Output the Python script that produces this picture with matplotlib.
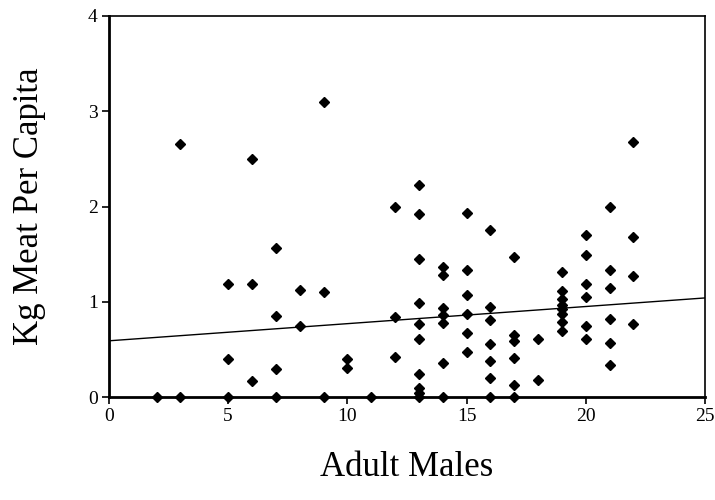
import matplotlib
matplotlib.use("Agg")
import matplotlib.pyplot as plt

# adult males per group and kg meat per capita
adult_males = [
    2, 3, 3, 5, 5, 5, 6, 6, 6, 7, 7, 7, 7, 8, 8, 9, 9, 9, 10, 10, 11,
    12, 12, 12,
    13, 13, 13, 13, 13, 13, 13, 13, 13, 13,
    14, 14, 14, 14, 14, 14, 14,
    15, 15, 15, 15, 15, 15,
    16, 16, 16, 16, 16, 16, 16,
    17, 17, 17, 17, 17, 17,
    18, 18,
    19, 19, 19, 19, 19, 19, 19, 19,
    20, 20, 20, 20, 20, 20,
    21, 21, 21, 21, 21, 21,
    22, 22, 22, 22,
]
meat_per_capita = [
    0.0, 2.66, 0.0, 1.19, 0.40, 0.0, 2.50, 1.19, 0.17, 1.56, 0.85, 0.29,
    0.0, 1.12, 0.75, 3.10, 1.10, 0.0, 0.40, 0.30, 0.0,
    1.99, 0.84, 0.42,
    2.23, 1.92, 1.45, 0.99, 0.77, 0.61, 0.24, 0.09, 0.04, 0.0,
    1.36, 1.28, 0.93, 0.86, 0.78, 0.36, 0.0,
    1.93, 1.33, 1.07, 0.87, 0.67, 0.47,
    1.75, 0.94, 0.81, 0.56, 0.38, 0.20, 0.0,
    1.47, 0.65, 0.59, 0.41, 0.13, 0.0,
    0.61, 0.18,
    1.31, 1.11, 1.03, 0.97, 0.92, 0.87, 0.79, 0.69,
    1.70, 1.49, 1.19, 1.05, 0.75, 0.61,
    1.99, 1.33, 1.14, 0.82, 0.57, 0.34,
    2.68, 1.68, 1.27, 0.77,
]

# fitted line as drawn in the figure
fit_x = [0, 25]
fit_y = [0.59, 1.04]

plt.rcParams['font.family'] = ['Liberation Serif', 'DejaVu Serif']

fig = plt.figure(figsize=(7.15, 5.0), dpi=100)
ax = fig.add_axes([0.1524, 0.206, 0.8336, 0.762])

ax.plot(fit_x, fit_y, color='black', linewidth=1.0, zorder=2)
ax.plot(adult_males, meat_per_capita, linestyle='none', marker='D',
        markersize=5.5, color='black', zorder=3, clip_on=False)

ax.set_xlim(0, 25)
ax.set_ylim(0, 4)
ax.set_xticks(range(0, 26, 5))
ax.set_yticks(range(0, 5))

ax.set_xlabel('Adult Males', fontsize=25, labelpad=19)
ax.set_ylabel('Kg Meat Per Capita', fontsize=25, labelpad=30)

for side in ['left', 'bottom']:
    ax.spines[side].set_linewidth(2.0)
for side in ['top', 'right']:
    ax.spines[side].set_linewidth(1.2)

ax.tick_params(direction='out', length=5, width=1.2, labelsize=14,
               colors='black', pad=3)

fig.savefig('out.png', dpi=100)
